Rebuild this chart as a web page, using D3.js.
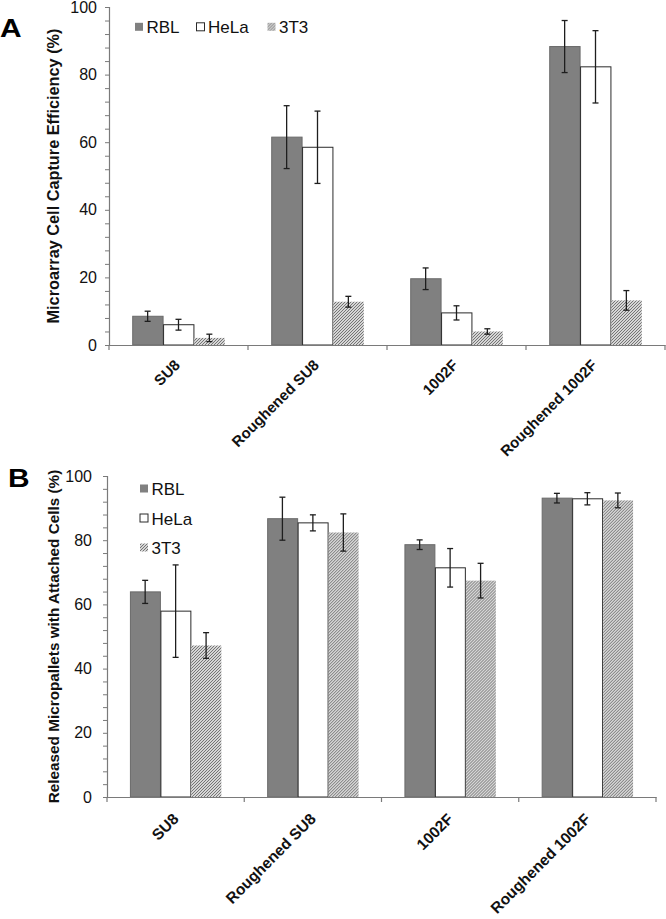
<!DOCTYPE html>
<html><head><meta charset="utf-8">
<script src="https://cdn.jsdelivr.net/npm/d3@7"></script>
<style>
html,body{margin:0;padding:0;background:#fff;}
svg text{font-family:"Liberation Sans",Arial,sans-serif;}
</style></head>
<body>
<svg id="chart" width="666" height="919"></svg>
<script>
const categories = ["SU8", "Roughened SU8", "1002F", "Roughened 1002F"];
const seriesNames = ["RBL", "HeLa", "3T3"];
// Panel A: microarray cell capture efficiency (%)
const captureRBL = [8.5, 61.5, 19.6, 88.3];
const captureHeLa = [6.0, 58.5, 9.5, 82.3];
const capture3T3 = [2.1, 12.8, 4.0, 13.2];
const captureErrRBL = [1.5, 9.3, 3.2, 7.7];
const captureErrHeLa = [1.6, 10.7, 2.1, 10.7];
const captureErr3T3 = [1.1, 1.6, 0.8, 2.9];
// Panel B: released micropallets with attached cells (%)
const releaseRBL = [63.9, 86.7, 78.6, 93.1];
const releaseHeLa = [57.9, 85.4, 71.4, 92.9];
const release3T3 = [47.2, 82.4, 67.4, 92.4];
const releaseErrRBL = [3.6, 6.7, 1.5, 1.5];
const releaseErrHeLa = [14.4, 2.5, 6.0, 1.9];
const releaseErr3T3 = [4.0, 5.8, 5.4, 2.3];
const yTicks = [0, 20, 40, 60, 80, 100];
const yMinorTicks = d3.range(0, 101, 4);

const svg = d3.select("#chart");
const defs = svg.append("defs");
const pat = defs.append("pattern").attr("id", "hatch")
  .attr("patternUnits", "userSpaceOnUse").attr("width", 3).attr("height", 3);
pat.append("rect").attr("width", 3).attr("height", 3).attr("fill", "#fff");
pat.append("path").attr("d", "M-1,1 L1,-1 M0,3 L3,0 M2,4 L4,2")
  .attr("stroke", "#6e6e6e").attr("stroke-width", 1.1);

const fills = ["#808080", "#ffffff", "url(#hatch)"];
const strokes = ["#6a6a6a", "#2a2a2a", "none"];

function panel(cfg) {
  const g = svg.append("g");
  const x = d3.scaleBand().domain(categories).range([cfg.x0, cfg.x1]).padding(0);
  const bw = x.bandwidth();
  const xs = d3.scaleBand().domain(seriesNames).range([bw * 0.167, bw * 0.833]).padding(0);
  const y = d3.scaleLinear().domain([0, 100]).range([cfg.y0, cfg.y1]);
  const rows = categories.map((c, i) => ({
    cat: c,
    vals: seriesNames.map((s, j) => ({ s, j, v: cfg.vals[j][i], e: cfg.errs[j][i] }))
  }));
  const grp = g.selectAll("g.cat").data(rows).join("g")
    .attr("transform", d => `translate(${x(d.cat)},0)`);
  grp.selectAll("rect").data(d => d.vals).join("rect")
    .attr("x", d => xs(d.s) + 0.5).attr("width", xs.bandwidth() - 0.5)
    .attr("y", d => y(d.v)).attr("height", d => y(0) - y(d.v))
    .attr("fill", d => fills[d.j]).attr("stroke", d => strokes[d.j]).attr("stroke-width", 1);
  // error bars
  const eb = grp.selectAll("g.err").data(d => d.vals).join("g").attr("class", "err")
    .attr("stroke", "#1e1e1e").attr("stroke-width", 1.3);
  const cx = d => xs(d.s) + xs.bandwidth() / 2;
  eb.append("line").attr("x1", cx).attr("x2", cx).attr("y1", d => y(d.v + d.e)).attr("y2", d => y(d.v - d.e));
  eb.append("line").attr("x1", d => cx(d) - 3).attr("x2", d => cx(d) + 3).attr("y1", d => y(d.v + d.e)).attr("y2", d => y(d.v + d.e));
  eb.append("line").attr("x1", d => cx(d) - 3).attr("x2", d => cx(d) + 3).attr("y1", d => y(d.v - d.e)).attr("y2", d => y(d.v - d.e));

  // y axis
  const ya = g.append("g").attr("transform", `translate(${cfg.x0},0)`)
    .call(d3.axisLeft(y).tickValues(yMinorTicks).tickSize(4).tickFormat(""));
  ya.select(".domain").attr("stroke", "#7a7a7a").attr("stroke-width", 1.2);
  ya.selectAll(".tick line").attr("stroke", "#7a7a7a");
  const yl = g.append("g").attr("transform", `translate(${cfg.x0},0)`)
    .call(d3.axisLeft(y).tickValues(yTicks).tickSize(0).tickPadding(cfg.tickPad));
  yl.select(".domain").remove();
  yl.selectAll("text").attr("font-size", 16).attr("fill", "#111")
    .attr("font-family", "Liberation Sans, Arial, sans-serif");

  // x axis
  const xa = g.append("g").attr("transform", `translate(0,${cfg.y0})`)
    .call(d3.axisBottom(x).tickSize(0).tickFormat(""));
  xa.select(".domain").attr("stroke", "#7a7a7a").attr("stroke-width", 1.2);
  xa.selectAll(".tick").remove();
  const bounds = d3.range(categories.length + 1).map(i => cfg.x0 + i * bw);
  xa.selectAll("line.b").data(bounds).join("line").attr("class", "b")
    .attr("x1", d => d).attr("x2", d => d).attr("y1", 0).attr("y2", 5)
    .attr("stroke", "#7a7a7a").attr("stroke-width", 1.2);
  g.selectAll("text.xl").data(categories).join("text").attr("class", "xl")
    .attr("transform", d => `translate(${x(d) + bw / 2 + cfg.xlabDx},${cfg.y0 + cfg.xlabDy}) rotate(-45)`)
    .attr("text-anchor", "end").attr("font-size", cfg.xlabSize).attr("font-weight", "bold").attr("fill", "#111")
    .text(d => d);

  // y label
  g.append("text")
    .attr("transform", `translate(${cfg.ylabX},${(cfg.y0 + cfg.y1) / 2}) rotate(-90)`)
    .attr("text-anchor", "middle").attr("font-size", cfg.ylabSize).attr("font-weight", "bold").attr("fill", "#111")
    .text(cfg.ylabel);

  // panel letter
  g.append("text").attr("transform", `translate(${cfg.letter[0]},${cfg.letter[1]}) scale(1.15,1)`)
    .attr("font-family", "DejaVu Sans, sans-serif").attr("font-weight", "bold").attr("font-size", 26)
    .attr("fill", "#000").text(cfg.letterText);

  // legend
  const lg = g.selectAll("g.leg").data(seriesNames).join("g").attr("class", "leg")
    .attr("transform", (d, i) => `translate(${cfg.legPos[i][0]},${cfg.legPos[i][1]})`);
  lg.append("rect").attr("x", 0).attr("y", -10.5).attr("width", 8).attr("height", 8)
    .attr("fill", (d, i) => fills[i]).attr("stroke", (d, i) => i === 1 ? "#2a2a2a" : "none");
  lg.append("text").attr("x", 11.5).attr("y", 0).attr("font-size", 17).attr("fill", "#111").text(d => d);
}

panel({
  x0: 109, x1: 665, y0: 345, y1: 7,
  vals: [captureRBL, captureHeLa, capture3T3],
  errs: [captureErrRBL, captureErrHeLa, captureErr3T3],
  tickPad: 12, xlabDx: 2.5, xlabDy: 21, xlabSize: 15,
  ylabX: 59, ylabSize: 16.3, ylabel: "Microarray Cell Capture Efficiency (%)",
  letter: [0, 37], letterText: "A",
  legPos: [[135, 33.3], [196.5, 33.3], [267.5, 33.3]]
});
panel({
  x0: 107, x1: 656, y0: 797, y1: 476,
  vals: [releaseRBL, releaseHeLa, release3T3],
  errs: [releaseErrRBL, releaseErrHeLa, releaseErr3T3],
  tickPad: 15, xlabDx: 4, xlabDy: 23, xlabSize: 15.5,
  ylabX: 59, ylabSize: 15.3, ylabel: "Released Micropallets with Attached Cells (%)",
  letter: [8, 487], letterText: "B",
  legPos: [[140, 495], [140, 524.5], [140, 554]]
});
</script>
</body></html>
